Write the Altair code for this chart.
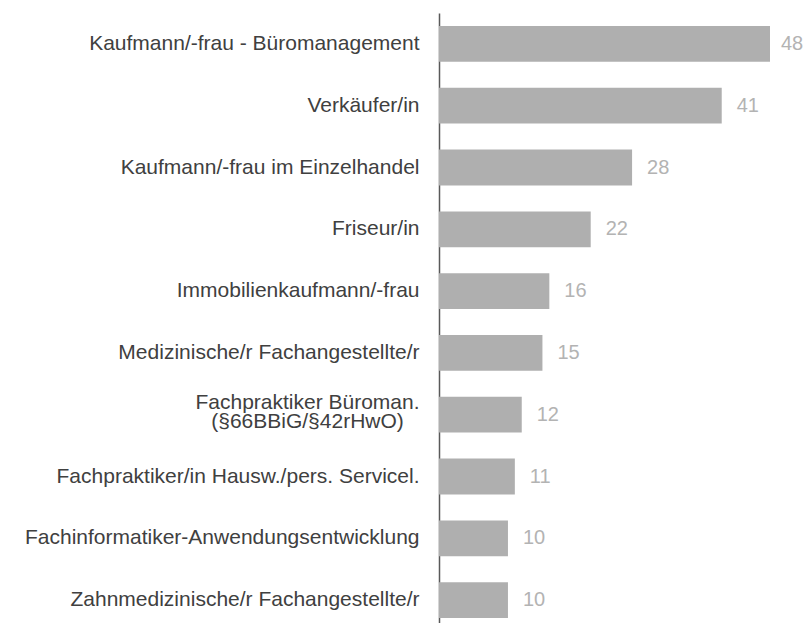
import altair as alt
import pandas as pd

categories = [
    "Kaufmann/-frau - Büromanagement",
    "Verkäufer/in",
    "Kaufmann/-frau im Einzelhandel",
    "Friseur/in",
    "Immobilienkaufmann/-frau",
    "Medizinische/r Fachangestellte/r",
    "Fachpraktiker Büroman.\n(§66BBiG/§42rHwO)",
    "Fachpraktiker/in Hausw./pers. Servicel.",
    "Fachinformatiker-Anwendungsentwicklung",
    "Zahnmedizinische/r Fachangestellte/r",
]
values = [48, 41, 28, 22, 16, 15, 12, 11, 10, 10]

df = pd.DataFrame({"Beruf": categories, "Anzahl": values})

multi_test = "indexof(datum.value, '(§66') >= 0"

y_axis = alt.Axis(
    title=None,
    domain=True,
    domainColor="#595959",
    domainWidth=1.5,
    ticks=False,
    grid=False,
    labelFontSize=21,
    labelFont="Arial",
    labelColor="#404040",
    labelLimit=600,
    labelLineHeight=19,
    labelBaseline="middle",
    labelExpr="split(datum.value, '\\n')",
    labelAlign={"condition": {"test": multi_test, "value": "center"}, "value": "right"},
    labelPadding={"condition": {"test": multi_test, "value": 132}, "value": 20},
    labelOffset={"condition": {"test": multi_test, "value": -12}, "value": 0},
)

base = alt.Chart(df).encode(
    y=alt.Y(
        "Beruf:N",
        sort=categories,
        scale=alt.Scale(paddingInner=0.42, paddingOuter=0.21),
        axis=y_axis,
    )
)

bars = base.mark_bar(color="#afafaf").encode(
    x=alt.X("Anzahl:Q", scale=alt.Scale(domain=[0, 48], nice=False, zero=True), axis=None)
)

text_base = base.transform_joinaggregate(maxA="max(Anzahl)")

labels = text_base.transform_filter("datum.Anzahl < datum.maxA").mark_text(
    align="left", baseline="middle", dx=15, fontSize=20, font="Arial", color="#b3b3b3"
).encode(x=alt.X("Anzahl:Q"), text=alt.Text("Anzahl:Q"))

label_max = text_base.transform_filter("datum.Anzahl >= datum.maxA").mark_text(
    align="left", baseline="middle", dx=11, fontSize=20, font="Arial", color="#b3b3b3"
).encode(x=alt.X("Anzahl:Q"), text=alt.Text("Anzahl:Q"))

chart = (
    alt.layer(bars, labels, label_max)
    .properties(
        width=331,
        height=618,
        autosize="none",
        padding={"left": 431, "top": 5, "right": 34, "bottom": 0},
    )
    .configure_view(stroke=None)
)

chart.save("out.html", embed_options={"renderer": "svg", "actions": False})
